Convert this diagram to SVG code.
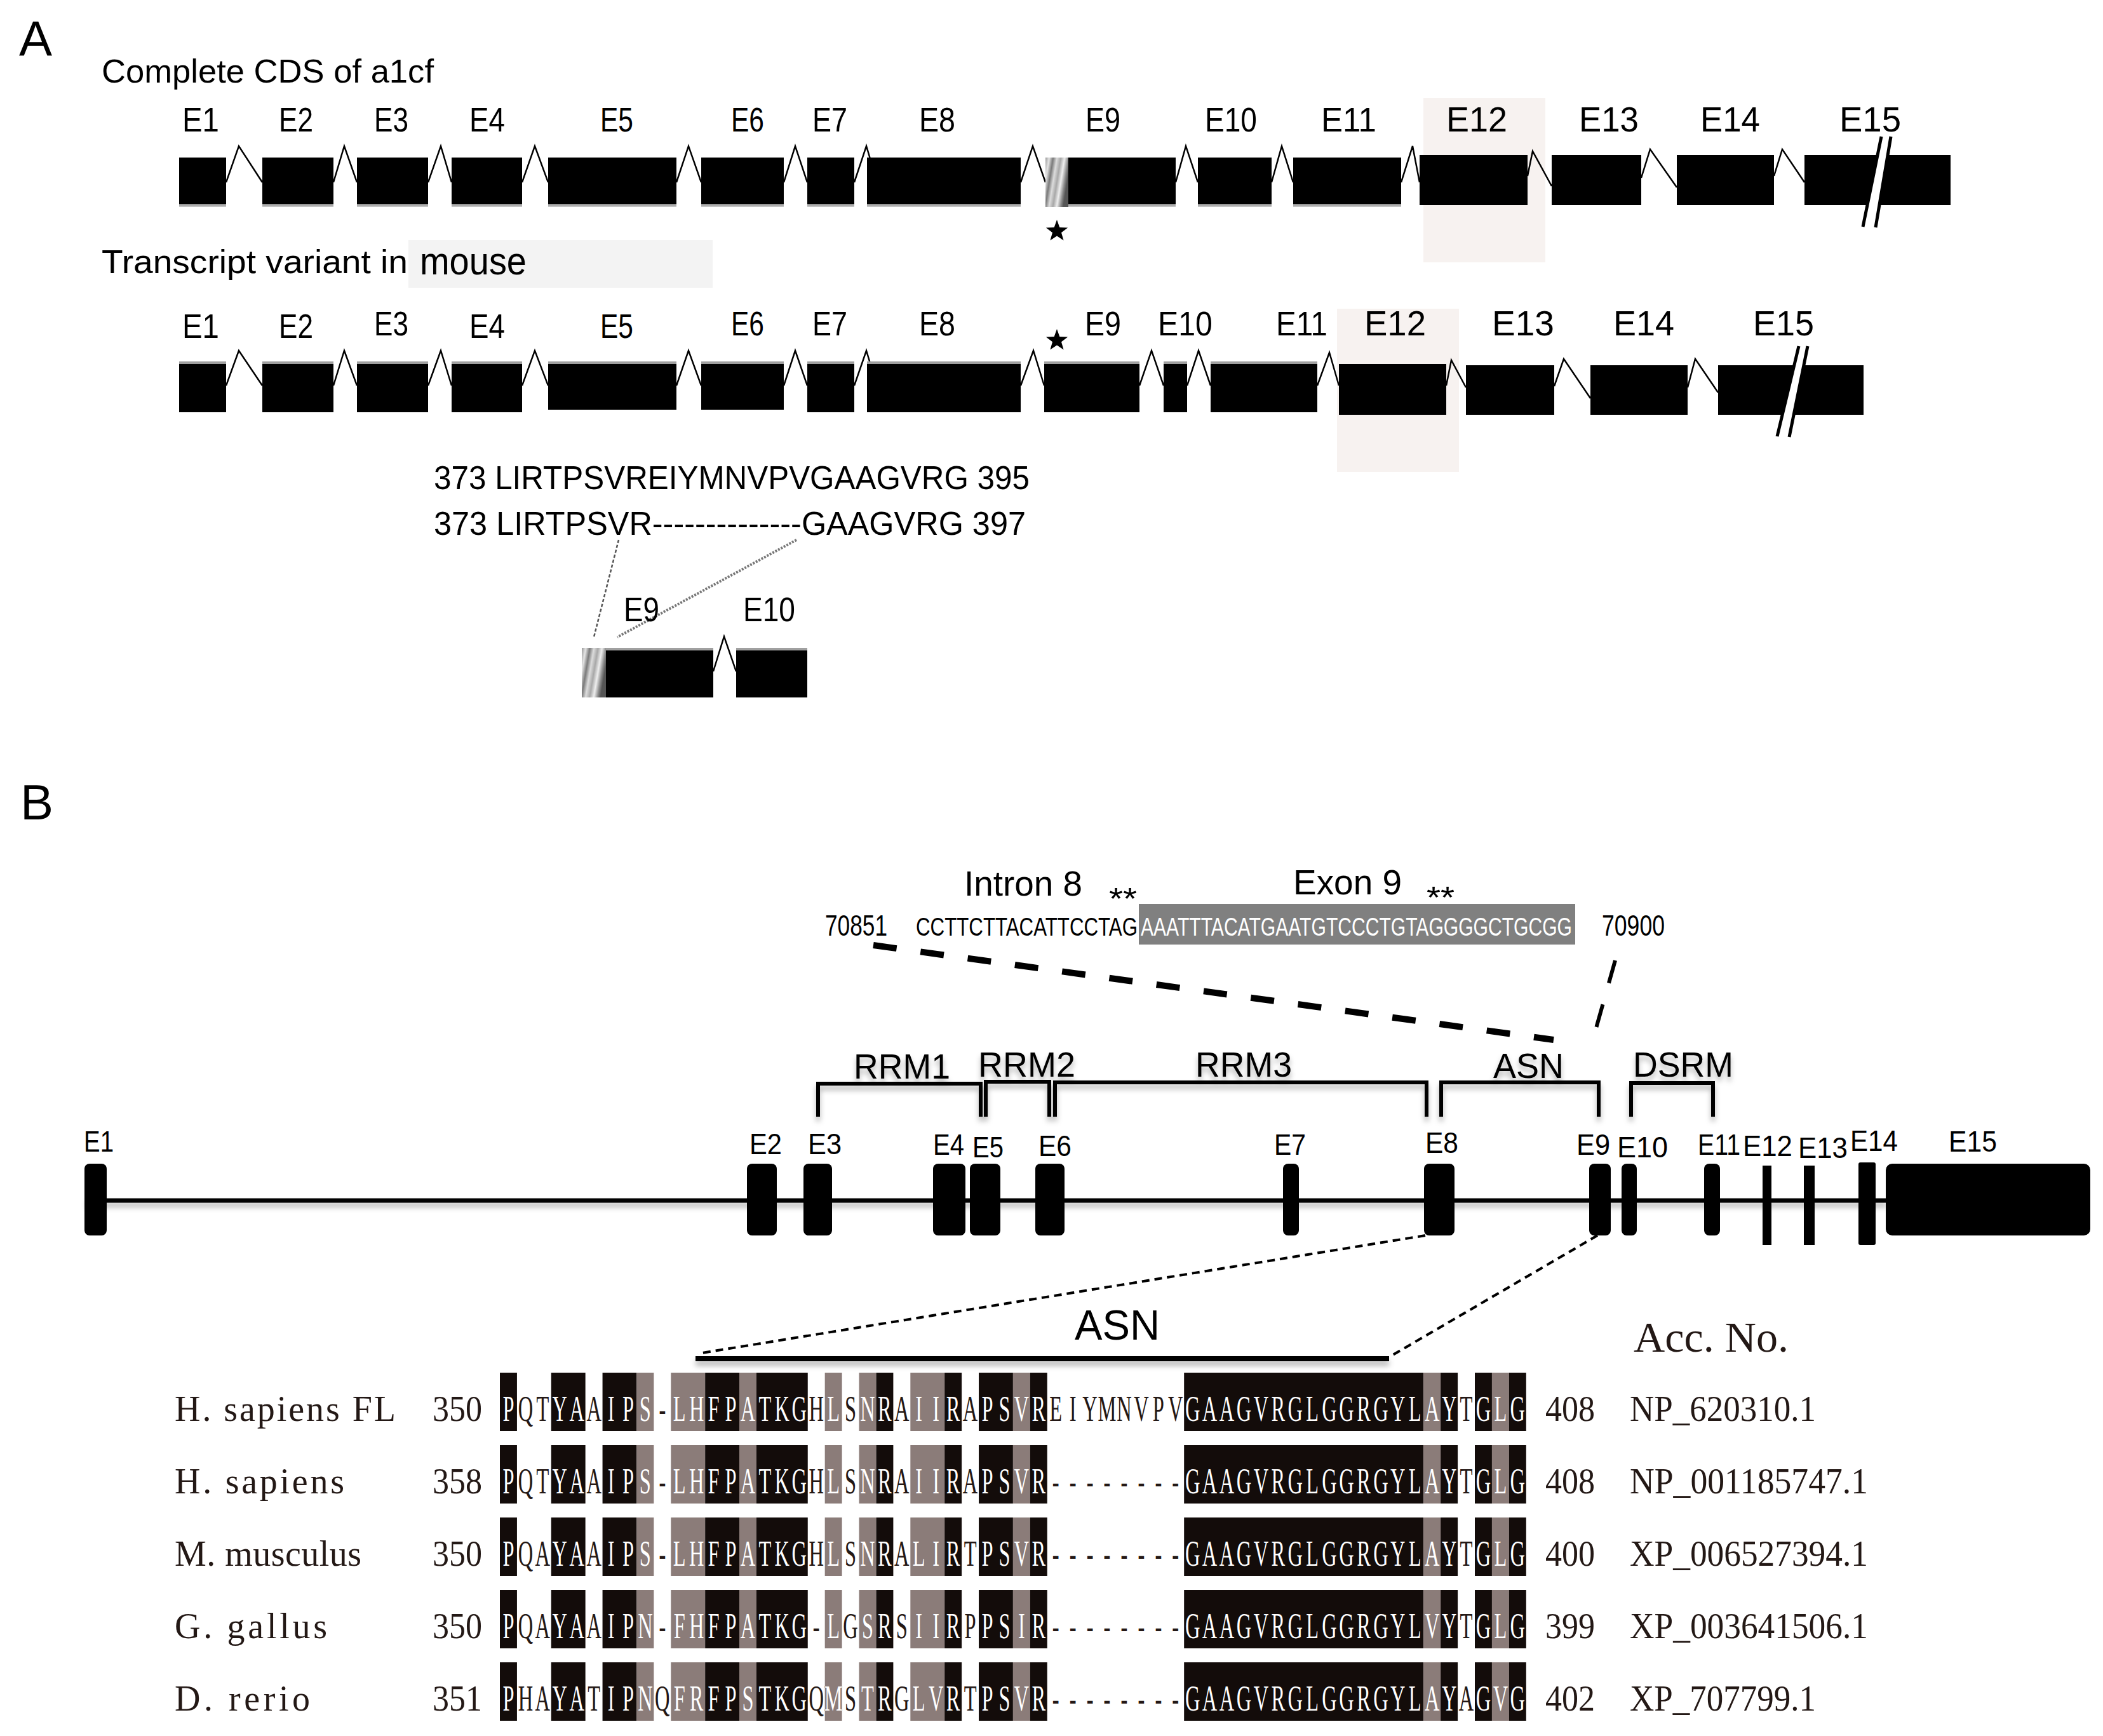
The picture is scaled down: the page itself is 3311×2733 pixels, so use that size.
<svg xmlns="http://www.w3.org/2000/svg" width="3311" height="2733" viewBox="0 0 3311 2733">
<style>
text{font-family:"Liberation Sans",Arial,sans-serif;fill:#000}
.pl{font-size:78px}
.ti{font-size:52px}
.el{font-size:54px}
.ea{font-size:56px}
.bl{font-size:46px}
.dom{font-size:56px}
.intr{fill:none;stroke:#000;stroke-width:2.5;stroke-linejoin:miter}
.br{fill:none;stroke:#000;stroke-width:6}
.nm{font-family:"Liberation Serif","Times New Roman",serif;font-size:56px;fill:#231815}
.sq{font-family:"Liberation Serif","Times New Roman",serif;font-size:56px;text-anchor:middle;fill:url(#sf)}
.k{fill:#130c0a}
.g{fill:#8b7c79}
.hl{fill:#f7f2f0}
.gx{fill:#000}
</style>
<defs>
<linearGradient id="r1" x1="0" y1="0" x2="0" y2="1">
<stop offset="0" stop-color="#000"/><stop offset="0.935" stop-color="#000"/><stop offset="0.935" stop-color="#8a8a8a"/><stop offset="1" stop-color="#cfcfcf"/>
</linearGradient>
<linearGradient id="r2" x1="0" y1="0" x2="0" y2="1">
<stop offset="0" stop-color="#a0a0a0"/><stop offset="0.05" stop-color="#a0a0a0"/><stop offset="0.05" stop-color="#000"/><stop offset="1" stop-color="#000"/>
</linearGradient>
<linearGradient id="st" x1="0" y1="0" x2="1" y2="0.35">
<stop offset="0" stop-color="#9a9a9a"/><stop offset="0.15" stop-color="#e4e4e4"/><stop offset="0.3" stop-color="#7a7a7a"/><stop offset="0.45" stop-color="#dcdcdc"/><stop offset="0.6" stop-color="#a8a8a8"/><stop offset="0.75" stop-color="#eeeeee"/><stop offset="0.9" stop-color="#8a8a8a"/><stop offset="1" stop-color="#555"/>
</linearGradient>
<linearGradient id="sf" gradientUnits="userSpaceOnUse" x1="1356.9" y1="0" x2="4142.76" y2="0">
<stop offset="0" stop-color="#fff"/><stop offset="0.016667" stop-color="#fff"/>
<stop offset="0.016667" stop-color="#231815"/><stop offset="0.05" stop-color="#231815"/>
<stop offset="0.05" stop-color="#fff"/><stop offset="0.083333" stop-color="#fff"/>
<stop offset="0.083333" stop-color="#231815"/><stop offset="0.1" stop-color="#231815"/>
<stop offset="0.1" stop-color="#fff"/><stop offset="0.15" stop-color="#fff"/>
<stop offset="0.15" stop-color="#231815"/><stop offset="0.166667" stop-color="#231815"/>
<stop offset="0.166667" stop-color="#fff"/><stop offset="0.3" stop-color="#fff"/>
<stop offset="0.3" stop-color="#231815"/><stop offset="0.316667" stop-color="#231815"/>
<stop offset="0.316667" stop-color="#fff"/><stop offset="0.333333" stop-color="#fff"/>
<stop offset="0.333333" stop-color="#231815"/><stop offset="0.35" stop-color="#231815"/>
<stop offset="0.35" stop-color="#fff"/><stop offset="0.383333" stop-color="#fff"/>
<stop offset="0.383333" stop-color="#231815"/><stop offset="0.4" stop-color="#231815"/>
<stop offset="0.4" stop-color="#fff"/><stop offset="0.45" stop-color="#fff"/>
<stop offset="0.45" stop-color="#231815"/><stop offset="0.466667" stop-color="#231815"/>
<stop offset="0.466667" stop-color="#fff"/><stop offset="0.533333" stop-color="#fff"/>
<stop offset="0.533333" stop-color="#231815"/><stop offset="0.666667" stop-color="#231815"/>
<stop offset="0.666667" stop-color="#fff"/><stop offset="0.933333" stop-color="#fff"/>
<stop offset="0.933333" stop-color="#231815"/><stop offset="0.95" stop-color="#231815"/>
<stop offset="0.95" stop-color="#fff"/><stop offset="1" stop-color="#fff"/>
</linearGradient>
<polygon id="star" points="0,-18 4.3,-6 17.1,-5.6 7,2.3 10.6,14.6 0,7.4 -10.6,14.6 -7,2.3 -17.1,-5.6 -4.3,-6" fill="#000"/>
<filter id="sh" filterUnits="userSpaceOnUse" x="0" y="0" width="3311" height="2733">
<feDropShadow dx="0" dy="7" stdDeviation="4" flood-color="#000" flood-opacity="0.3"/>
</filter>
<g id="shade">
<rect class="k" x="787" y="0" width="26.93" height="92"/>
<rect class="k" x="867.79" y="0" width="53.86" height="92"/>
<rect class="k" x="948.58" y="0" width="53.86" height="92"/>
<rect class="g" x="1002.44" y="0" width="26.93" height="92"/>
<rect class="g" x="1056.3" y="0" width="53.86" height="92"/>
<rect class="k" x="1110.16" y="0" width="53.86" height="92"/>
<rect class="g" x="1164.02" y="0" width="26.93" height="92"/>
<rect class="k" x="1190.95" y="0" width="80.79" height="92"/>
<rect class="g" x="1298.67" y="0" width="26.93" height="92"/>
<rect class="g" x="1352.53" y="0" width="26.93" height="92"/>
<rect class="k" x="1379.46" y="0" width="26.93" height="92"/>
<rect class="g" x="1433.32" y="0" width="53.86" height="92"/>
<rect class="k" x="1487.18" y="0" width="26.93" height="92"/>
<rect class="k" x="1541.04" y="0" width="53.86" height="92"/>
<rect class="g" x="1594.9" y="0" width="26.93" height="92"/>
<rect class="k" x="1621.83" y="0" width="26.93" height="92"/>
<rect class="k" x="1864.2" y="0" width="377.02" height="92"/>
<rect class="g" x="2241.22" y="0" width="26.93" height="92"/>
<rect class="k" x="2268.15" y="0" width="26.93" height="92"/>
<rect class="k" x="2322.01" y="0" width="26.93" height="92"/>
<rect class="g" x="2348.94" y="0" width="26.93" height="92"/>
<rect class="k" x="2375.87" y="0" width="26.93" height="92"/>
</g>
</defs>
<rect x="0" y="0" width="3311" height="2733" fill="#fff"/>

<!-- Panel labels -->
<text class="pl" x="30" y="88">A</text>
<text class="pl" x="32" y="1290">B</text>

<!-- ===== Panel A ===== -->
<g id="a-titles">
<text class="ti" x="160" y="130" textLength="523" lengthAdjust="spacingAndGlyphs">Complete CDS of a1cf</text>
<rect x="643" y="378" width="479" height="75" fill="#f3f3f3"/>
<text class="ti" x="160" y="430" textLength="482" lengthAdjust="spacingAndGlyphs">Transcript variant in</text>
<text x="661" y="432" style="font-size:62px" textLength="168" lengthAdjust="spacingAndGlyphs">mouse</text>
</g>
<rect class="hl" x="2241" y="154" width="192" height="259"/>
<rect class="hl" x="2105" y="486" width="192" height="257"/>

<g id="a-connectors">
<path class="intr" d="M356 287 L376 230 L413 287 M525 287 L542 230 L562 287 M674 287 L694 230 L711 287 M822 287 L842 230 L863 287 M1065 287 L1084 230 L1104 287 M1234 287 L1252 230 L1271 287 M1345 287 L1364 230 L1370 250 M1607 287 L1626 230 L1646 287 M1851 287 L1867 230 L1886 287 M2002 287 L2018 230 L2036 287 M2206 287 L2224 230 L2235 287 M2405 277 L2413 238 L2443 293 M2584 280 L2598 235 L2640 295 M2793 277 L2806 235 L2841 287"/>
<path class="intr" d="M356 607 L376 552 L413 607 M525 607 L542 552 L562 607 M674 607 L694 552 L711 607 M822 607 L842 552 L863 607 M1065 607 L1084 552 L1104 607 M1234 607 L1252 552 L1271 607 M1345 607 L1364 552 L1370 572 M1607 607 L1627 552 L1644 607 M1794 607 L1813 552 L1832 607 M1869 607 L1887 552 L1906 607 M2074 607 L2093 555 L2108 607 M2277 607 L2285 567 L2308 610 M2447 608 L2462 565 L2504 627 M2657 610 L2669 565 L2705 618"/>
<path class="intr" d="M1123 1057 L1140 1002 L1159 1057"/>
<path d="M974 850 L935 1003" fill="none" stroke="#555" stroke-width="2.5" stroke-dasharray="5 3"/>
<path d="M1254 850 L972 1003" fill="none" stroke="#777" stroke-width="4" stroke-dasharray="3 2"/>
</g>

<g id="a-row1">
<g id="a1-e1"><rect x="282" y="248" width="74" height="78" fill="url(#r1)"/><text class="el" x="287" y="207" textLength="58" lengthAdjust="spacingAndGlyphs">E1</text></g>
<g id="a1-e2"><rect x="413" y="248" width="112" height="78" fill="url(#r1)"/><text class="el" x="439" y="207" textLength="54" lengthAdjust="spacingAndGlyphs">E2</text></g>
<g id="a1-e3"><rect x="562" y="248" width="112" height="78" fill="url(#r1)"/><text class="el" x="589" y="207" textLength="54" lengthAdjust="spacingAndGlyphs">E3</text></g>
<g id="a1-e4"><rect x="711" y="248" width="111" height="78" fill="url(#r1)"/><text class="el" x="739" y="207" textLength="56" lengthAdjust="spacingAndGlyphs">E4</text></g>
<g id="a1-e5"><rect x="863" y="248" width="202" height="78" fill="url(#r1)"/><text class="el" x="945" y="207" textLength="52" lengthAdjust="spacingAndGlyphs">E5</text></g>
<g id="a1-e6"><rect x="1104" y="248" width="130" height="78" fill="url(#r1)"/><text class="el" x="1151" y="207" textLength="52" lengthAdjust="spacingAndGlyphs">E6</text></g>
<g id="a1-e7"><rect x="1271" y="248" width="74" height="78" fill="url(#r1)"/><text class="el" x="1279" y="207" textLength="55" lengthAdjust="spacingAndGlyphs">E7</text></g>
<g id="a1-e8"><rect x="1365" y="248" width="242" height="78" fill="url(#r1)"/><text class="el" x="1447" y="207" textLength="57" lengthAdjust="spacingAndGlyphs">E8</text></g>
<g id="a1-e9"><rect x="1646" y="248" width="36" height="78" fill="url(#st)"/><rect x="1682" y="248" width="169" height="78" fill="url(#r1)"/><use href="#star" x="1664" y="364"/><text class="el" x="1709" y="207" textLength="55" lengthAdjust="spacingAndGlyphs">E9</text></g>
<g id="a1-e10"><rect x="1886" y="248" width="116" height="78" fill="url(#r1)"/><text class="el" x="1897" y="207" textLength="82" lengthAdjust="spacingAndGlyphs">E10</text></g>
<g id="a1-e11"><rect x="2036" y="248" width="170" height="78" fill="url(#r1)"/><text class="el" x="2080" y="207" textLength="87" lengthAdjust="spacingAndGlyphs">E11</text></g>
<g id="a1-e12"><rect x="2235" y="244" width="170" height="79" class="gx"/><text class="ea" x="2277" y="207" textLength="96" lengthAdjust="spacingAndGlyphs">E12</text></g>
<g id="a1-e13"><rect x="2443" y="244" width="141" height="79" class="gx"/><text class="ea" x="2486" y="207" textLength="94" lengthAdjust="spacingAndGlyphs">E13</text></g>
<g id="a1-e14"><rect x="2640" y="244" width="153" height="79" class="gx"/><text class="ea" x="2677" y="207" textLength="94" lengthAdjust="spacingAndGlyphs">E14</text></g>
<g id="a1-e15"><rect x="2841" y="244" width="230" height="79" class="gx"/><polygon points="2962,215 2977,215 2953,358 2933,357" fill="#fff"/><path d="M2962 215 L2933 357 M2977 215 L2953 358" stroke="#000" stroke-width="5" fill="none"/><text class="ea" x="2896" y="207" textLength="97" lengthAdjust="spacingAndGlyphs">E15</text></g>
</g>

<g id="a-row2">
<g id="a2-e1"><rect x="282" y="569" width="74" height="80" fill="url(#r2)"/><text class="el" x="287" y="532" textLength="58" lengthAdjust="spacingAndGlyphs">E1</text></g>
<g id="a2-e2"><rect x="413" y="569" width="112" height="80" fill="url(#r2)"/><text class="el" x="439" y="532" textLength="54" lengthAdjust="spacingAndGlyphs">E2</text></g>
<g id="a2-e3"><rect x="562" y="569" width="112" height="80" fill="url(#r2)"/><text class="el" x="589" y="528" textLength="54" lengthAdjust="spacingAndGlyphs">E3</text></g>
<g id="a2-e4"><rect x="711" y="569" width="111" height="80" fill="url(#r2)"/><text class="el" x="739" y="532" textLength="56" lengthAdjust="spacingAndGlyphs">E4</text></g>
<g id="a2-e5"><rect x="863" y="569" width="202" height="76" fill="url(#r2)"/><text class="el" x="945" y="532" textLength="52" lengthAdjust="spacingAndGlyphs">E5</text></g>
<g id="a2-e6"><rect x="1104" y="569" width="130" height="76" fill="url(#r2)"/><text class="el" x="1151" y="528" textLength="52" lengthAdjust="spacingAndGlyphs">E6</text></g>
<g id="a2-e7"><rect x="1271" y="569" width="74" height="80" fill="url(#r2)"/><text class="el" x="1279" y="528" textLength="55" lengthAdjust="spacingAndGlyphs">E7</text></g>
<g id="a2-e8"><rect x="1365" y="569" width="242" height="80" fill="url(#r2)"/><text class="el" x="1447" y="528" textLength="57" lengthAdjust="spacingAndGlyphs">E8</text></g>
<g id="a2-e9"><rect x="1644" y="569" width="150" height="80" fill="url(#r2)"/><use href="#star" x="1664" y="536"/><text class="el" x="1708" y="528" textLength="57" lengthAdjust="spacingAndGlyphs">E9</text></g>
<g id="a2-e10"><rect x="1832" y="569" width="37" height="80" fill="url(#r2)"/><text class="el" x="1823" y="528" textLength="86" lengthAdjust="spacingAndGlyphs">E10</text></g>
<g id="a2-e11"><rect x="1906" y="569" width="168" height="80" fill="url(#r2)"/><text class="el" x="2009" y="528" textLength="81" lengthAdjust="spacingAndGlyphs">E11</text></g>
<g id="a2-e12"><rect x="2108" y="573" width="169" height="80" class="gx"/><text class="ea" x="2148" y="528" textLength="97" lengthAdjust="spacingAndGlyphs">E12</text></g>
<g id="a2-e13"><rect x="2308" y="575" width="139" height="78" class="gx"/><text class="ea" x="2349" y="528" textLength="98" lengthAdjust="spacingAndGlyphs">E13</text></g>
<g id="a2-e14"><rect x="2504" y="575" width="153" height="78" class="gx"/><text class="ea" x="2540" y="528" textLength="96" lengthAdjust="spacingAndGlyphs">E14</text></g>
<g id="a2-e15"><rect x="2705" y="575" width="229" height="78" class="gx"/><polygon points="2832,545 2846,545 2817,688 2798,687" fill="#fff"/><path d="M2832 545 L2798 687 M2846 545 L2817 688" stroke="#000" stroke-width="5" fill="none"/><text class="ea" x="2760" y="528" textLength="96" lengthAdjust="spacingAndGlyphs">E15</text></g>
</g>

<g id="a-seq">
<text class="ti" x="683" y="770" textLength="938" lengthAdjust="spacingAndGlyphs">373 LIRTPSVREIYMNVPVGAAGVRG 395</text>
<text class="ti" x="683" y="842" textLength="932" lengthAdjust="spacingAndGlyphs">373 LIRTPSVR--------------GAAGVRG 397</text>
</g>
<g id="a-detail">
<rect x="916" y="1020" width="38" height="78" fill="url(#st)"/>
<rect x="954" y="1020" width="169" height="78" fill="url(#r2)"/>
<rect x="1159" y="1020" width="112" height="78" fill="url(#r2)"/>
<text class="el" x="982" y="978" textLength="56" lengthAdjust="spacingAndGlyphs">E9</text>
<text class="el" x="1170" y="978" textLength="82" lengthAdjust="spacingAndGlyphs">E10</text>
</g>

<!-- ===== Panel B ===== -->
<g id="b-sequence">
<text x="1518" y="1410" style="font-size:56px" textLength="186" lengthAdjust="spacingAndGlyphs">Intron 8</text>
<text x="2036" y="1408" style="font-size:56px" textLength="171" lengthAdjust="spacingAndGlyphs">Exon 9</text>
<text x="1746" y="1431" style="font-size:48px" textLength="44" lengthAdjust="spacingAndGlyphs">**</text>
<text x="2246" y="1429" style="font-size:48px" textLength="44" lengthAdjust="spacingAndGlyphs">**</text>
<rect x="1793" y="1423" width="687" height="64" fill="#808080"/>
<g transform="translate(0 1473) scale(1 1.36)">
<text x="1299" y="0" style="font-size:34px" textLength="98" lengthAdjust="spacingAndGlyphs">70851</text>
<text x="1442" y="0" style="font-size:30.5px" textLength="349" lengthAdjust="spacingAndGlyphs">CCTTCTTACATTCCTAG</text>
<text x="1796" y="0" style="font-size:29.5px;fill:#fff" textLength="679" lengthAdjust="spacingAndGlyphs">AAATTTACATGAATGTCCCTGTAGGGGCTGCGG</text>
<text x="2522" y="0" style="font-size:34px" textLength="99" lengthAdjust="spacingAndGlyphs">70900</text>
</g>
</g>

<g id="b-connectors">
<path d="M1375 1488 L2446 1637" fill="none" stroke="#000" stroke-width="10" stroke-dasharray="37 38"/>
<path d="M2543 1512 L2512 1622" fill="none" stroke="#000" stroke-width="6" stroke-dasharray="37 35"/>
<path d="M2244 1945 L1099 2131" fill="none" stroke="#000" stroke-width="4" stroke-dasharray="12 8"/>
<path d="M2515 1945 L2193 2133" fill="none" stroke="#000" stroke-width="4" stroke-dasharray="12 8"/>
</g>

<g id="b-domains" filter="url(#sh)">
<g id="d-rrm1"><path class="br" d="M1288 1758 V1706 H1544 V1758"/><text class="dom" x="1344" y="1698" textLength="152" lengthAdjust="spacingAndGlyphs">RRM1</text></g>
<g id="d-rrm2"><path class="br" d="M1552 1758 V1703 H1652 V1758"/><text class="dom" x="1540" y="1695" textLength="153" lengthAdjust="spacingAndGlyphs">RRM2</text></g>
<g id="d-rrm3"><path class="br" d="M1661 1758 V1704 H2246 V1758"/><text class="dom" x="1882" y="1695" textLength="152" lengthAdjust="spacingAndGlyphs">RRM3</text></g>
<g id="d-asn"><path class="br" d="M2269 1758 V1704 H2517 V1758"/><text class="dom" x="2351" y="1697" textLength="111" lengthAdjust="spacingAndGlyphs">ASN</text></g>
<g id="d-dsrm"><path class="br" d="M2568 1758 V1705 H2697 V1758"/><text class="dom" x="2571" y="1695" textLength="158" lengthAdjust="spacingAndGlyphs">DSRM</text></g>
</g>

<g id="b-gene">
<path d="M136 1890 H2970" stroke="#000" stroke-width="7" filter="url(#sh)"/>
<g id="b-e1"><rect x="133" y="1832" width="35" height="113" rx="8"/><text class="bl" x="132" y="1813" textLength="47" lengthAdjust="spacingAndGlyphs">E1</text></g>
<g id="b-e2"><rect x="1176" y="1832" width="47" height="113" rx="8"/><text class="bl" x="1180" y="1817" textLength="51" lengthAdjust="spacingAndGlyphs">E2</text></g>
<g id="b-e3"><rect x="1265" y="1832" width="45" height="113" rx="8"/><text class="bl" x="1272" y="1817" textLength="53" lengthAdjust="spacingAndGlyphs">E3</text></g>
<g id="b-e4"><rect x="1469" y="1832" width="51" height="113" rx="8"/><text class="bl" x="1469" y="1818" textLength="49" lengthAdjust="spacingAndGlyphs">E4</text></g>
<g id="b-e5"><rect x="1527" y="1832" width="48" height="113" rx="8"/><text class="bl" x="1531" y="1822" textLength="49" lengthAdjust="spacingAndGlyphs">E5</text></g>
<g id="b-e6"><rect x="1630" y="1832" width="46" height="113" rx="8"/><text class="bl" x="1635" y="1820" textLength="52" lengthAdjust="spacingAndGlyphs">E6</text></g>
<g id="b-e7"><rect x="2020" y="1832" width="25" height="113" rx="8"/><text class="bl" x="2006" y="1818" textLength="50" lengthAdjust="spacingAndGlyphs">E7</text></g>
<g id="b-e8"><rect x="2242" y="1832" width="48" height="113" rx="8"/><text class="bl" x="2244" y="1815" textLength="52" lengthAdjust="spacingAndGlyphs">E8</text></g>
<g id="b-e9"><rect x="2502" y="1832" width="34" height="113" rx="8"/><text class="bl" x="2482" y="1818" textLength="53" lengthAdjust="spacingAndGlyphs">E9</text></g>
<g id="b-e10"><rect x="2553" y="1832" width="24" height="113" rx="8"/><text class="bl" x="2546" y="1822" textLength="80" lengthAdjust="spacingAndGlyphs">E10</text></g>
<g id="b-e11"><rect x="2683" y="1832" width="25" height="113" rx="8"/><text class="bl" x="2673" y="1818" textLength="67" lengthAdjust="spacingAndGlyphs">E11</text></g>
<g id="b-e12"><rect x="2775" y="1835" width="14" height="125"/><text class="bl" x="2744" y="1820" textLength="78" lengthAdjust="spacingAndGlyphs">E12</text></g>
<g id="b-e13"><rect x="2840" y="1835" width="17" height="125"/><text class="bl" x="2831" y="1823" textLength="78" lengthAdjust="spacingAndGlyphs">E13</text></g>
<g id="b-e14"><rect x="2926" y="1830" width="27" height="130" rx="3"/><text class="bl" x="2913" y="1812" textLength="75" lengthAdjust="spacingAndGlyphs">E14</text></g>
<g id="b-e15"><rect x="2969" y="1832" width="322" height="113" rx="10"/><text class="bl" x="3068" y="1813" textLength="76" lengthAdjust="spacingAndGlyphs">E15</text></g>
</g>

<g id="b-asn">
<path d="M1095 2139 H2187" stroke="#000" stroke-width="8" filter="url(#sh)"/>
<text x="1692" y="2109" style="font-size:66px" textLength="134" lengthAdjust="spacingAndGlyphs">ASN</text>
</g>

<g id="b-alignment">
<text class="nm" x="2572" y="2128" style="font-size:68px" textLength="244" lengthAdjust="spacingAndGlyphs">Acc. No.</text>
<use href="#shade" y="2161"/>
<use href="#shade" y="2275"/>
<use href="#shade" y="2389"/>
<use href="#shade" y="2503"/>
<use href="#shade" y="2617"/>

<g id="labels">
<text class="nm" x="275" y="2237" textLength="348" lengthAdjust="spacing">H. sapiens FL</text>
<text class="nm" x="681" y="2237" textLength="78" lengthAdjust="spacingAndGlyphs">350</text>
<text class="nm" x="2433" y="2237" textLength="78" lengthAdjust="spacingAndGlyphs">408</text>
<text class="nm" x="2566" y="2237" textLength="293" lengthAdjust="spacingAndGlyphs">NP_620310.1</text>

<text class="nm" x="275" y="2351" textLength="267" lengthAdjust="spacing">H. sapiens</text>
<text class="nm" x="681" y="2351" textLength="78" lengthAdjust="spacingAndGlyphs">358</text>
<text class="nm" x="2433" y="2351" textLength="78" lengthAdjust="spacingAndGlyphs">408</text>
<text class="nm" x="2566" y="2351" textLength="375" lengthAdjust="spacingAndGlyphs">NP_001185747.1</text>

<text class="nm" x="275" y="2465" textLength="294" lengthAdjust="spacing">M. musculus</text>
<text class="nm" x="681" y="2465" textLength="78" lengthAdjust="spacingAndGlyphs">350</text>
<text class="nm" x="2433" y="2465" textLength="78" lengthAdjust="spacingAndGlyphs">400</text>
<text class="nm" x="2566" y="2465" textLength="375" lengthAdjust="spacingAndGlyphs">XP_006527394.1</text>

<text class="nm" x="275" y="2579" textLength="240" lengthAdjust="spacing">G. gallus</text>
<text class="nm" x="681" y="2579" textLength="78" lengthAdjust="spacingAndGlyphs">350</text>
<text class="nm" x="2433" y="2579" textLength="78" lengthAdjust="spacingAndGlyphs">399</text>
<text class="nm" x="2566" y="2579" textLength="375" lengthAdjust="spacingAndGlyphs">XP_003641506.1</text>

<text class="nm" x="275" y="2693" textLength="213" lengthAdjust="spacing">D. rerio</text>
<text class="nm" x="681" y="2693" textLength="78" lengthAdjust="spacingAndGlyphs">351</text>
<text class="nm" x="2433" y="2693" textLength="78" lengthAdjust="spacingAndGlyphs">402</text>
<text class="nm" x="2566" y="2693" textLength="293" lengthAdjust="spacingAndGlyphs">XP_707799.1</text>
</g>

<g id="sequences" transform="scale(0.58 1)">
<text class="sq" y="2237" x="1380.11 1426.54 1472.97 1519.4 1565.83 1612.27 1658.7 1705.13 1751.56 1797.99 1844.42 1890.85 1937.28 1983.71 2030.14 2076.58 2123.01 2169.44 2215.87 2262.3 2308.73 2355.16 2401.59 2448.02 2494.45 2540.89 2587.32 2633.75 2680.18 2726.61 2773.04 2819.47 2865.9 2912.33 2958.76 3005.2 3051.63 3098.06 3144.49 3190.92 3237.35 3283.78 3330.21 3376.64 3423.07 3469.51 3515.94 3562.37 3608.8 3655.23 3701.66 3748.09 3794.52 3840.95 3887.38 3933.82 3980.25 4026.68 4073.11 4119.54">PQTYAAIPS-LHFPATKGHLSNRAIIRAPSVREIYMNVPVGAAGVRGLGGRGYLAYTGLG</text>
<text class="sq" y="2351" x="1380.11 1426.54 1472.97 1519.4 1565.83 1612.27 1658.7 1705.13 1751.56 1797.99 1844.42 1890.85 1937.28 1983.71 2030.14 2076.58 2123.01 2169.44 2215.87 2262.3 2308.73 2355.16 2401.59 2448.02 2494.45 2540.89 2587.32 2633.75 2680.18 2726.61 2773.04 2819.47 2865.9 2912.33 2958.76 3005.2 3051.63 3098.06 3144.49 3190.92 3237.35 3283.78 3330.21 3376.64 3423.07 3469.51 3515.94 3562.37 3608.8 3655.23 3701.66 3748.09 3794.52 3840.95 3887.38 3933.82 3980.25 4026.68 4073.11 4119.54">PQTYAAIPS-LHFPATKGHLSNRAIIRAPSVR--------GAAGVRGLGGRGYLAYTGLG</text>
<text class="sq" y="2465" x="1380.11 1426.54 1472.97 1519.4 1565.83 1612.27 1658.7 1705.13 1751.56 1797.99 1844.42 1890.85 1937.28 1983.71 2030.14 2076.58 2123.01 2169.44 2215.87 2262.3 2308.73 2355.16 2401.59 2448.02 2494.45 2540.89 2587.32 2633.75 2680.18 2726.61 2773.04 2819.47 2865.9 2912.33 2958.76 3005.2 3051.63 3098.06 3144.49 3190.92 3237.35 3283.78 3330.21 3376.64 3423.07 3469.51 3515.94 3562.37 3608.8 3655.23 3701.66 3748.09 3794.52 3840.95 3887.38 3933.82 3980.25 4026.68 4073.11 4119.54">PQAYAAIPS-LHFPATKGHLSNRALIRTPSVR--------GAAGVRGLGGRGYLAYTGLG</text>
<text class="sq" y="2579" x="1380.11 1426.54 1472.97 1519.4 1565.83 1612.27 1658.7 1705.13 1751.56 1797.99 1844.42 1890.85 1937.28 1983.71 2030.14 2076.58 2123.01 2169.44 2215.87 2262.3 2308.73 2355.16 2401.59 2448.02 2494.45 2540.89 2587.32 2633.75 2680.18 2726.61 2773.04 2819.47 2865.9 2912.33 2958.76 3005.2 3051.63 3098.06 3144.49 3190.92 3237.35 3283.78 3330.21 3376.64 3423.07 3469.51 3515.94 3562.37 3608.8 3655.23 3701.66 3748.09 3794.52 3840.95 3887.38 3933.82 3980.25 4026.68 4073.11 4119.54">PQAYAAIPN-FHFPATKG-LGSRSIIRPPSIR--------GAAGVRGLGGRGYLVYTGLG</text>
<text class="sq" y="2693" x="1380.11 1426.54 1472.97 1519.4 1565.83 1612.27 1658.7 1705.13 1751.56 1797.99 1844.42 1890.85 1937.28 1983.71 2030.14 2076.58 2123.01 2169.44 2215.87 2262.3 2308.73 2355.16 2401.59 2448.02 2494.45 2540.89 2587.32 2633.75 2680.18 2726.61 2773.04 2819.47 2865.9 2912.33 2958.76 3005.2 3051.63 3098.06 3144.49 3190.92 3237.35 3283.78 3330.21 3376.64 3423.07 3469.51 3515.94 3562.37 3608.8 3655.23 3701.66 3748.09 3794.52 3840.95 3887.38 3933.82 3980.25 4026.68 4073.11 4119.54">PHAYATIPNQFRFPSTKGQMSTRGLVRTPSVR--------GAAGVRGLGGRGYLAYAGVG</text>
</g>
</g>
</svg>
